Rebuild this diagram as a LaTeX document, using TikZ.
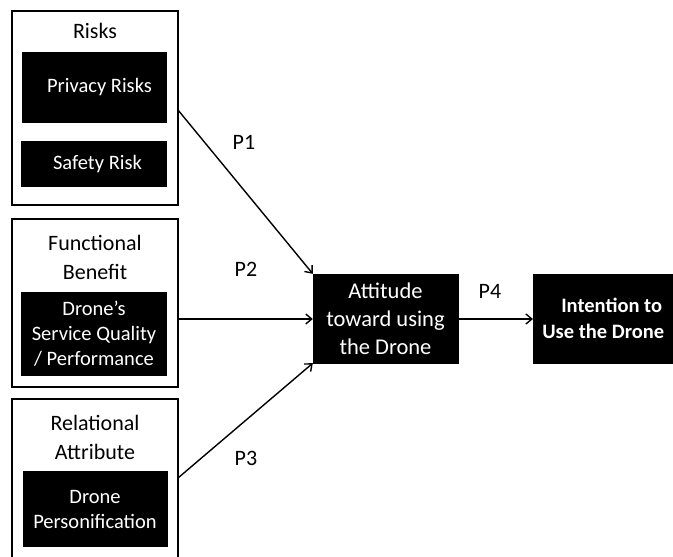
\documentclass[tikz,border=0pt]{standalone}
\usepackage{fontspec}
\setmainfont{Carlito}
\usetikzlibrary{arrows.meta}
\begin{document}
\begin{tikzpicture}[x=1pt,y=-1pt,
  outer/.style={draw=black,line width=1.6pt,fill=white},
  blk/.style={fill=black,draw=black,text=white,align=center,inner sep=0pt},
  ttl/.style={align=center,font=\fontsize{22}{29}\selectfont,inner sep=0pt},
  lbl/.style={font=\fontsize{22}{26}\selectfont,inner sep=0pt},
  arr/.style={line width=1.4pt,-{Straight Barb[length=6pt,width=10pt]}}]
\useasboundingbox (0,0) rectangle (673,557);
% outer boxes
\draw[outer] (12,11) rectangle (178,205);
\draw[outer] (12,219) rectangle (178,387);
\draw[outer] (12,399) rectangle (178,570);
% titles
\node[ttl] (risks) at (95,31) {Risks};
\node[ttl] (func) at (95,257) {Functional\\Benefit};
\node[ttl] (rel) at (95,437) {Relational\\Attribute};
% black inner boxes
\node[blk,minimum width=144pt,minimum height=70pt,font=\fontsize{20.5}{25}\selectfont] (priv) at (94,87) {\hspace*{11pt}Privacy Risks};
\node[blk,minimum width=145pt,minimum height=45pt,font=\fontsize{20.5}{25}\selectfont] (safe) at (94,164) {\hspace*{7pt}Safety Risk};
\node[blk,minimum width=145pt,minimum height=83pt,font=\fontsize{20.5}{25}\selectfont] (serv) at (94,334) {Drone’s\\Service Quality\\/ Performance};
\node[blk,minimum width=144pt,minimum height=75pt,font=\fontsize{20.5}{25}\selectfont] (pers) at (95,509) {Drone\\Personification};
% right side boxes
\node[blk,minimum width=145pt,minimum height=89pt,font=\fontsize{22.5}{28}\selectfont] (att) at (385.5,318.5) {Attitude\\toward using\\the Drone};
\node[blk,anchor=west,minimum width=140pt,minimum height=89pt,align=left,font=\bfseries\fontsize{20.5}{26}\selectfont] (int) at (533,318.5) {\hspace*{19pt}Intention to\\Use the Drone};
% connector anchors
\coordinate (s1) at (178,110);
\coordinate (s2) at (178,319);
\coordinate (s3) at (178,478);
\draw[arr] (s1) -- (att.north west);
\draw[arr] (s2) -- (att.west |- s2);
\draw[arr] (s3) -- (att.south west);
\draw[arr] (att.east |- s2) -- (int.west |- s2);
% labels
\node[lbl] (p1) at (244,142) {P1};
\node[lbl] (p2) at (246,269) {P2};
\node[lbl] (p3) at (246,458) {P3};
\node[lbl] (p4) at (490,291) {P4};
\end{tikzpicture}
\end{document}
